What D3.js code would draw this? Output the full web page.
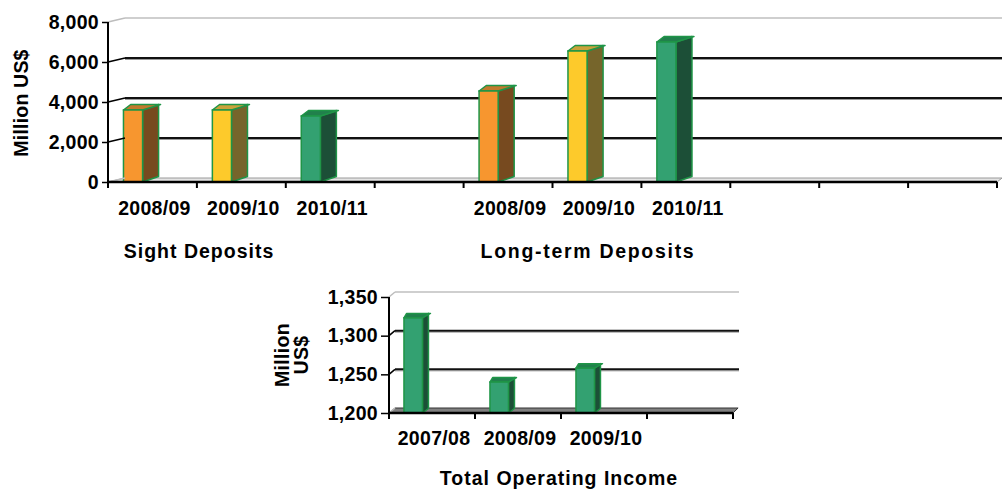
<!DOCTYPE html>
<html>
<head>
<meta charset="utf-8">
<script src="https://cdn.jsdelivr.net/npm/d3@7/dist/d3.min.js"></script>
<style>
  html, body { margin: 0; padding: 0; background: #ffffff; }
  svg { display: block; }
  text { font-family: "Liberation Sans", Arial, sans-serif; font-weight: bold; fill: #000; }
</style>
</head>
<body>
<svg id="chart" width="1002" height="490"></svg>
<script>
// ---- data ----
const sightYears = ["2008/09", "2009/10", "2010/11"];
const sightValues = [3600, 3600, 3300];
const longTermYears = ["2008/09", "2009/10", "2010/11"];
const longTermValues = [4550, 6550, 7000];
const depositTicks = [0, 2000, 4000, 6000, 8000];

const incomeYears = ["2007/08", "2008/09", "2009/10"];
const incomeValues = [1323, 1240, 1258];
const incomeTicks = [1200, 1250, 1300, 1350];

const groupTitles = ["Sight Deposits", "Long-term Deposits"];
const incomeTitle = "Total Operating Income";
const unitLabel = "Million US$";

// colour per fiscal year: [front, side, top]
const yearColors = {
  "2008/09": ["#f7962f", "#774a1f", "#c27a2d"],
  "2009/10": ["#fdca2b", "#76652b", "#c9a23a"],
  "2010/11": ["#33a171", "#1c4f37", "#21804c"]
};
const incomeColor = ["#33a171", "#1c4f37", "#21804c"];
const barStroke = "#1f9547";

const svg = d3.select("#chart");
const fmt = d3.format(",");
const FONT = 19.5;

// Draws one pseudo-3D column panel.
function panel(opt) {
  const g = svg.append("g");
  const x = d3.scaleBand().domain(d3.range(opt.slots)).range([opt.left, opt.right]).paddingInner(0).paddingOuter(0);
  const y = d3.scaleLinear().domain(opt.domain).range([opt.bottom, opt.top]);
  const wx = opt.wallDx, wy = opt.wallDy;
  const y0 = y(opt.domain[0]);

  // back wall: top edge and gridlines
  g.append("line")
    .attr("x1", opt.left + wx).attr("x2", opt.right + wx)
    .attr("y1", y(opt.domain[1]) + wy).attr("y2", y(opt.domain[1]) + wy)
    .attr("stroke", "#cfcfcf").attr("stroke-width", 2);
  const gridTicks = opt.ticks.filter(t => t !== opt.domain[0] && t !== opt.domain[1]);
  g.selectAll("line.gridshade").data(gridTicks).join("line").attr("class", "gridshade")
    .attr("x1", opt.left + wx).attr("x2", opt.right + wx)
    .attr("y1", d => y(d) + wy + 1.5).attr("y2", d => y(d) + wy + 1.5)
    .attr("stroke", "#9a9a9a").attr("stroke-width", 1);
  g.selectAll("line.grid").data(gridTicks).join("line").attr("class", "grid")
    .attr("x1", opt.left + wx).attr("x2", opt.right + wx)
    .attr("y1", d => y(d) + wy).attr("y2", d => y(d) + wy)
    .attr("stroke", "#111").attr("stroke-width", 2);

  // floor
  g.append("polygon")
    .attr("points", [[opt.left, y0], [opt.right, y0], [opt.right + wx * opt.floorRight, y0 + wy], [opt.left + wx, y0 + wy]].map(p => p.join(",")).join(" "))
    .attr("fill", opt.floorFill).attr("stroke", opt.floorStroke).attr("stroke-width", 1);

  // columns
  const bw = x.step() * 0.215;
  const off = x.step() * 0.174;
  const bars = g.selectAll("g.bar").data(opt.bars).join("g").attr("class", "bar");
  bars.each(function (d) {
    const b = d3.select(this);
    const x0 = x(d.slot) + off, x1 = x0 + bw;
    const yt = y(d.value), yb = y0;
    const dx = opt.barDx, dy = opt.barDy;
    b.append("polygon")
      .attr("points", [[x1, yt], [x1 + dx, yt - dy], [x1 + dx, yb - dy], [x1, yb]].map(p => p.join(",")).join(" "))
      .attr("fill", d.color[1]).attr("stroke", barStroke).attr("stroke-width", 1.5).attr("stroke-linejoin", "round");
    b.append("polygon")
      .attr("points", [[x0, yt], [x1, yt], [x1 + dx + 2, yt - dy], [x0 + dx * 0.45, yt - dy]].map(p => p.join(",")).join(" "))
      .attr("fill", d.color[2]).attr("stroke", barStroke).attr("stroke-width", 1.5).attr("stroke-linejoin", "round");
    b.append("rect")
      .attr("x", x0).attr("y", yt).attr("width", bw).attr("height", yb - yt)
      .attr("fill", d.color[0]).attr("stroke", barStroke).attr("stroke-width", 1.5);
  });

  // value axis
  const ya = d3.axisLeft(y).tickValues(opt.ticks).tickFormat(fmt).tickSize(opt.tickLen).tickPadding(3);
  const yg = g.append("g").attr("transform", `translate(${opt.left},0)`).call(ya);
  yg.select(".domain").remove();
  yg.selectAll(".tick line").attr("stroke", "#000").attr("stroke-width", 1.5);
  yg.selectAll(".tick text")
    .style("font-family", '"Liberation Sans", Arial, sans-serif')
    .style("font-weight", "bold").style("font-size", FONT + "px")
    .style("letter-spacing", opt.tickSpacing + "px").attr("fill", "#000");
  g.selectAll("line.slant").data(opt.ticks).join("line").attr("class", "slant")
    .attr("x1", opt.left).attr("y1", d => y(d))
    .attr("x2", opt.left + wx).attr("y2", d => y(d) + wy)
    .attr("stroke", d => (d === opt.domain[0] || d === opt.domain[1]) ? "#bdbdbd" : "#000")
    .attr("stroke-width", 1.5);
  g.append("line")
    .attr("x1", opt.left).attr("x2", opt.left)
    .attr("y1", y(opt.domain[1])).attr("y2", y0 + opt.catTick)
    .attr("stroke", "#000").attr("stroke-width", 2);

  // category axis
  g.append("line")
    .attr("x1", opt.left).attr("x2", opt.right)
    .attr("y1", y0).attr("y2", y0)
    .attr("stroke", "#000").attr("stroke-width", 2.5);
  g.selectAll("line.ctick").data(d3.range(1, opt.slots + 1)).join("line").attr("class", "ctick")
    .attr("x1", i => opt.left + i * x.step()).attr("x2", i => opt.left + i * x.step())
    .attr("y1", y0).attr("y2", y0 + opt.catTick)
    .attr("stroke", "#000").attr("stroke-width", 2);
  g.selectAll("text.cat").data(opt.bars).join("text").attr("class", "cat")
    .attr("x", d => x(d.slot) + x.bandwidth() / 2 + 2)
    .attr("y", opt.catBaseline)
    .attr("text-anchor", "middle")
    .style("font-size", FONT + "px").style("letter-spacing", opt.catSpacing + "px")
    .text(d => d.label);

  return { x, y, g };
}

// ---- deposits panel ----
const depositBars = sightYears.map((yr, i) => ({ slot: i, label: yr, value: sightValues[i], color: yearColors[yr] }))
  .concat(longTermYears.map((yr, i) => ({ slot: i + 4, label: yr, value: longTermValues[i], color: yearColors[yr] })));

panel({
  slots: 10, left: 108, right: 997, top: 22, bottom: 182,
  domain: [0, 8000], ticks: depositTicks, bars: depositBars,
  wallDx: 17, wallDy: -4, floorRight: 0.3, floorFill: "#e4e4e4", floorStroke: "#9a9a9a",
  barDx: 16, barDy: 5.5, tickLen: 6, catTick: 6,
  tickSpacing: 0.3, catSpacing: 0.3, catBaseline: 215
});

svg.append("text")
  .attr("transform", "translate(21,103) rotate(-90)")
  .attr("text-anchor", "middle").attr("dominant-baseline", "central")
  .style("font-size", FONT + "px").style("letter-spacing", "0.2px")
  .text(unitLabel);

svg.selectAll("text.group").data(groupTitles).join("text").attr("class", "group")
  .attr("x", (d, i) => i === 0 ? 199 : 588)
  .attr("y", 258)
  .attr("text-anchor", "middle")
  .style("font-size", FONT + "px")
  .style("letter-spacing", (d, i) => i === 0 ? "1px" : "1.7px")
  .text(d => d);

// ---- operating income panel ----
const incomeBars = incomeYears.map((yr, i) => ({ slot: i, label: yr, value: incomeValues[i], color: incomeColor }));

panel({
  slots: 4, left: 389, right: 733, top: 297, bottom: 413,
  domain: [1200, 1350], ticks: incomeTicks, bars: incomeBars,
  wallDx: 6, wallDy: -5, floorRight: 0.85, floorFill: "#808080", floorStroke: "#333",
  barDx: 6, barDy: 4.5, tickLen: 8, catTick: 6,
  tickSpacing: 0.3, catSpacing: 0.3, catBaseline: 445
});

const unitParts = ["Million", "US$"];
svg.selectAll("text.unit2").data(unitParts).join("text").attr("class", "unit2")
  .attr("transform", (d, i) => `translate(${282 + i * 19},355) rotate(-90)`)
  .attr("text-anchor", "middle").attr("dominant-baseline", "central")
  .style("font-size", FONT + "px").style("letter-spacing", "0.3px")
  .text(d => d);

svg.append("text")
  .attr("x", 559).attr("y", 485)
  .attr("text-anchor", "middle")
  .style("font-size", FONT + "px").style("letter-spacing", "1px")
  .text(incomeTitle);
</script>
</body>
</html>
